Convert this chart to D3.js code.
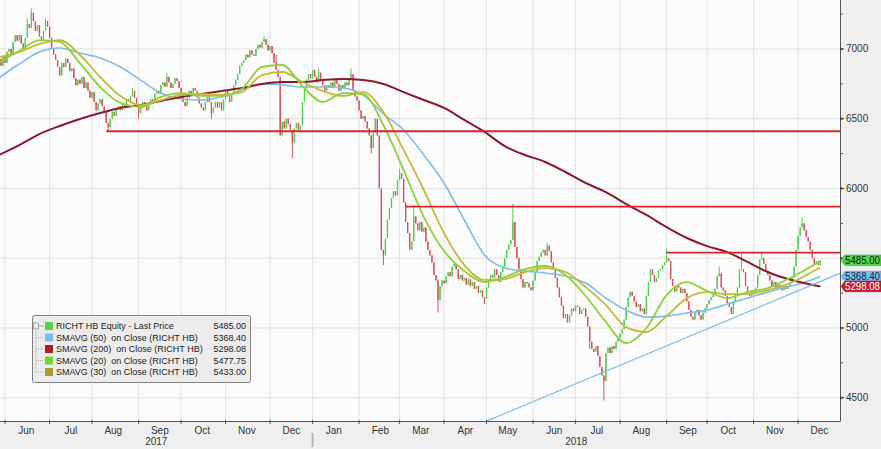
<!DOCTYPE html>
<html><head><meta charset="utf-8">
<script src="https://cdn.jsdelivr.net/npm/d3@7"></script>
<style>
body{margin:0;background:#efefef;}
svg{display:block;font-family:"Liberation Sans",Arial,sans-serif;}
.pre{white-space:pre;}
</style>
</head><body>
<svg id="chart" width="881" height="449"></svg>
<script>
// ---------------- DATA ----------------
const startDate = "2017-05-29";   // first trading day shown
const firstOpen = 6900;
const closes = [
 6930,6880,6950,6900,6980,7000,6960,7050,7100,7060,7100,
 7040,7000,7080,7180,7150,7260,7200,7130,7170,7090,
 7060,7130,7200,7160,7080,7000,6960,6920,6870,6810,
 6900,6870,6930,6900,6840,6860,6790,6740,6780,6750,
 6800,6720,6760,6700,6650,6690,6620,6560,6610,6640,
 6590,6550,6470,6440,6500,6550,6520,6570,6590,6560,
 6610,6580,6640,6620,6660,6700,6650,6600,6540,6580,
 6620,6590,6560,6600,6640,6620,6680,6700,6680,6740,
 6760,6730,6800,6760,6720,6750,6790,6770,6720,6660,
 6620,6590,6650,6700,6680,6720,6700,6650,6610,6580,
 6560,6620,6660,6620,6540,6580,6620,6580,6620,6560,
 6640,6700,6660,6620,6680,6740,6780,6820,6880,6900,
 6920,6960,6940,6990,6960,6950,7000,7030,7010,7050,
 7070,7030,6990,7020,6970,6900,6850,6800,6380,6480,
 6430,6500,6460,6420,6330,6430,6470,6420,6450,6620,
 6720,6780,6820,6790,6850,6800,6760,6830,6780,6740,
 6700,6740,6720,6760,6730,6780,6750,6700,6740,6720,
 6760,6740,6790,6820,6700,6660,6630,6560,6500,6520,
 6480,6430,6380,6290,6400,6500,6380,6000,5560,5520,
 5640,5780,5860,5930,5980,5950,6060,6110,6070,5900,
 5760,5680,5560,5620,5800,5750,5700,5760,5690,5720,
 5620,5560,5520,5470,5380,5340,5200,5300,5340,5320,
 5370,5400,5370,5440,5460,5420,5350,5380,5340,5360,
 5310,5350,5300,5330,5280,5300,5250,5270,5220,5210,
 5290,5350,5380,5360,5420,5380,5330,5400,5440,5500,
 5560,5600,5630,5760,5580,5500,5420,5350,5290,5330,
 5320,5290,5270,5340,5400,5480,5510,5540,5560,5520,
 5590,5550,5470,5420,5360,5290,5220,5160,5070,5100,
 5040,5090,5140,5120,5160,5150,5100,5130,5140,5080,
 5010,4900,4850,4830,4870,4800,4720,4660,4620,4820,
 4860,4820,4870,4850,4900,4930,4960,4990,5060,5150,
 5220,5260,5230,5190,5150,5170,5120,5140,5100,5230,
 5330,5420,5380,5330,5360,5410,5420,5450,5470,5500,
 5480,5350,5300,5260,5300,5290,5250,5280,5250,5190,
 5130,5080,5060,5110,5130,5090,5060,5110,5140,5170,
 5200,5220,5240,5280,5370,5390,5290,5270,5230,5180,
 5150,5100,5190,5240,5290,5420,5420,5400,5300,5250,
 5230,5260,5250,5290,5380,5490,5500,5460,5410,5380,
 5340,5300,5330,5280,5310,5290,5270,5300,5280,5300,
 5330,5360,5440,5560,5660,5720,5750,5700,5650,5620,
 5560,5500,5460,5480,5450,5485
];
// notable wicks [dayIndex, price]
const wickHighs = [[14,7220],[16,7290],[23,7220],[66,6720],[83,6830],[131,7090],[137,6960],[158,6860],[174,6860],[198,6140],[205,5880],[254,5890],[271,5610],[330,5570],[356,5440],[367,5540],[377,5540],[397,5790]];
const wickLows  = [[54,6410],[69,6500],[105,6500],[145,6220],[184,6250],[190,5450],[217,5110],[240,5170],[292,4850],[299,4480]];

// moving averages sampled every 10 trading days (plus last day)
const maIdx  = [0,10,20,30,40,50,60,70,80,90,100,110,120,130,140,150,160,170,180,190,200,210,220,230,240,250,260,270,280,290,300,310,320,330,340,350,360,370,380,390,400,406];
const sma20  = [6906,6985,7064,7050,6899,6727,6613,6584,6656,6684,6663,6663,6713,6871,6885,6734,6620,6684,6677,6455,6132,5795,5551,5408,5329,5365,5422,5444,5379,5229,5042,4892,4999,5236,5329,5265,5214,5257,5286,5351,5429,5477.75];
const sma30  = [6942,6978,7036,7064,6957,6799,6663,6598,6634,6670,6677,6670,6691,6813,6835,6763,6699,6663,6691,6548,6276,5989,5680,5451,5344,5351,5401,5429,5401,5293,5164,5006,4971,5085,5214,5257,5243,5243,5272,5315,5386,5433];
const sma50  = [6792,6892,6978,7007,6971,6935,6871,6777,6684,6641,6634,6656,6706,6749,6742,6727,6727,6720,6670,6534,6419,6240,6039,5774,5523,5430,5408,5394,5372,5322,5214,5128,5078,5085,5107,5128,5171,5214,5257,5293,5336,5368.40];
const sma200 = [6240,6311,6390,6448,6498,6541,6577,6598,6627,6656,6677,6699,6720,6749,6763,6763,6777,6785,6777,6749,6691,6634,6577,6491,6405,6304,6240,6190,6118,6039,5974,5888,5810,5723,5645,5587,5544,5473,5401,5351,5315,5298.08];

// horizontal resistance / support levels: start day index, price
const levelStart = [53, 201, 330];
const levelPrice = [6410, 5870, 5540];
// rising trendline: two anchors (day index, price)
const trendIdx = [241, 416];
const trendVal = [4332, 5394];

const yMajor  = [4500,5000,5500,6000,6500,7000];
const yLabels = [4500,5000,6000,6500,7000];   // 5500 hidden behind the price tag
const yMinor  = [4750,5250,5750,6250,6750,7250];

const legendNames  = ["RICHT HB Equity - Last Price","SMAVG (50)  on Close (RICHT HB)","SMAVG (200)  on Close (RICHT HB)","SMAVG (20)  on Close (RICHT HB)","SMAVG (30)  on Close (RICHT HB)"];
const legendValues = ["5485.00","5368.40","5298.08","5477.75","5433.00"];
const legendColors = ["#4fd44a","#7cbcec","#b01a2e","#6fd62a","#ab9c2c"];

const tagValues = [5485.00, 5368.40, 5298.08];
const tagFill   = ["#52d44c","#7cbcec","#c01f35"];
const tagText   = ["#0c2a0c","#0b2440","#ffffff"];

// ---------------- CHART ----------------
const W = 881, H = 449, PR = 840, PB = 421;
const svg = d3.select("#chart");

// trading days (weekdays)
const parse = d3.timeParse("%Y-%m-%d");
const dates = [];
{ let d = parse(startDate); while (dates.length < closes.length) { const wd = d.getDay(); if (wd !== 0 && wd !== 6) dates.push(new Date(d)); d = d3.timeDay.offset(d, 1); } }

const x = d3.scaleLinear().domain([0.5, 415.7]).range([0, PR]);
const y = d3.scaleLinear().domain([4333, 7351]).range([PB, 0]);

svg.append("rect").attr("x",0).attr("y",0).attr("width",W).attr("height",H).attr("fill","#efefef");
svg.append("rect").attr("x",0).attr("y",0).attr("width",PR).attr("height",PB).attr("fill","#fbfbfb");

svg.append("defs").append("clipPath").attr("id","clip").append("rect").attr("x",0).attr("y",0).attr("width",PR).attr("height",PB);

// month starts
const monthStarts = [];
for (let i = 1; i < dates.length; i++) if (dates[i].getMonth() !== dates[i-1].getMonth()) monthStarts.push(i);
const fmtMon = d3.timeFormat("%b");

const grid = svg.append("g");
monthStarts.forEach(i => grid.append("line").attr("x1",x(i)).attr("x2",x(i)).attr("y1",0).attr("y2",PB).attr("stroke","#e2e2e2").attr("stroke-width",1));
yMajor.forEach(v => grid.append("line").attr("x1",0).attr("x2",PR).attr("y1",y(v)).attr("y2",y(v)).attr("stroke","#e2e2e2").attr("stroke-width",1));

const plot = svg.append("g").attr("clip-path","url(#clip)");

// candles
const hiMap = new Map(wickHighs), loMap = new Map(wickLows);
const candles = closes.map((c,i) => {
  const o = i === 0 ? firstOpen : closes[i-1];
  const hi = hiMap.has(i) ? hiMap.get(i) : Math.max(o,c);
  const lo = loMap.has(i) ? loMap.get(i) : Math.min(o,c);
  return {i, o, c, hi, lo};
});
const cg = plot.append("g");
cg.selectAll("line.w").data(candles).join("line").attr("class","w")
  .attr("x1",d=>x(d.i)).attr("x2",d=>x(d.i)).attr("y1",d=>y(d.hi)).attr("y2",d=>y(d.lo))
  .attr("stroke",d=>d.c>=d.o?"#4fcf4f":"#dc4e5e").attr("stroke-width",1);
cg.selectAll("rect").data(candles).join("rect")
  .attr("x",d=>x(d.i)-0.65).attr("width",1.3)
  .attr("y",d=>y(Math.max(d.o,d.c))).attr("height",d=>Math.max(1,Math.abs(y(d.o)-y(d.c))))
  .attr("fill",d=>d.c>=d.o?"#4fcf4f":"#dc4e5e");

// moving averages
const maLine = vals => d3.line().x((d,k)=>x(maIdx[k])).y(d=>y(d)).curve(d3.curveMonotoneX)(vals);
plot.append("path").attr("d",maLine(sma50)).attr("fill","none").attr("stroke","#7cbcec").attr("stroke-width",1.6);
plot.append("path").attr("d",maLine(sma200)).attr("fill","none").attr("stroke","#8c1a2e").attr("stroke-width",2);
plot.append("path").attr("d",maLine(sma30)).attr("fill","none").attr("stroke","#c4b938").attr("stroke-width",1.8);
plot.append("path").attr("d",maLine(sma20)).attr("fill","none").attr("stroke","#8ed23a").attr("stroke-width",1.8);

// levels
levelStart.forEach((s,k) => plot.append("line").attr("x1",x(s)).attr("x2",PR).attr("y1",y(levelPrice[k])).attr("y2",y(levelPrice[k])).attr("stroke","#d8242c").attr("stroke-width",1.8));
// trendline
plot.append("line").attr("x1",x(trendIdx[0])).attr("y1",y(trendVal[0])).attr("x2",x(trendIdx[1])).attr("y2",y(trendVal[1])).attr("stroke","#7cbcec").attr("stroke-width",1.2);

// axes lines
svg.append("line").attr("x1",0).attr("x2",PR).attr("y1",PB+0.5).attr("y2",PB+0.5).attr("stroke","#555").attr("stroke-width",1);
svg.append("line").attr("x1",PR+0.5).attr("x2",PR+0.5).attr("y1",0).attr("y2",PB+0.5).attr("stroke","#555").attr("stroke-width",1);

// x ticks + labels
const xa = svg.append("g").attr("font-size",10).attr("fill","#333");
monthStarts.forEach(i => xa.append("line").attr("x1",x(i)).attr("x2",x(i)).attr("y1",PB-1).attr("y2",PB+3).attr("stroke","#555"));
monthStarts.forEach(i => {
  xa.append("text").attr("x",x(i+10.5)).attr("y",PB+13).attr("text-anchor","middle").text(fmtMon(dates[i]));
});
const janIdx = monthStarts.find(i => dates[i].getMonth() === 0);
xa.append("rect").attr("x",x(janIdx)-1).attr("y",PB+12).attr("width",2).attr("height",14).attr("fill","#b8b8b8");
xa.append("text").attr("x",x(janIdx)/2).attr("y",PB+24).attr("text-anchor","middle").text(d3.timeFormat("%Y")(dates[0]));
xa.append("text").attr("x",(x(janIdx)+PR)/2).attr("y",PB+24).attr("text-anchor","middle").text(d3.timeFormat("%Y")(dates[janIdx]));

// y ticks + labels
const ya = svg.append("g").attr("font-size",10).attr("fill","#333");
yMinor.forEach(v => ya.append("line").attr("x1",PR).attr("x2",PR+3).attr("y1",y(v)).attr("y2",y(v)).attr("stroke","#555"));
yMajor.forEach(v => ya.append("path").attr("d",`M${PR},${y(v)-1.5}L${PR+5},${y(v)}L${PR},${y(v)+1.5}Z`).attr("fill","#444"));
yLabels.forEach(v => ya.append("text").attr("x",PR+6).attr("y",y(v)+3.5).text(v));

// value tags
const tg = svg.append("g").attr("font-size",10);
tagValues.forEach((v,k) => {
  const yy = y(v), h = 5.3;
  tg.append("path").attr("d",`M${PR+1},${yy}L${PR+5},${yy-h}L${W},${yy-h}L${W},${yy+h}L${PR+5},${yy+h}Z`)
    .attr("fill",tagFill[k]).attr("stroke",d3.color(tagFill[k]).darker(0.8)).attr("stroke-width",0.6);
  tg.append("text").attr("x",PR+5).attr("y",yy+3.6).attr("fill",tagText[k]).attr("textLength",35).attr("lengthAdjust","spacingAndGlyphs").text(d3.format(".2f")(v));
});

// legend
const lg = svg.append("g").attr("font-size",9).attr("fill","#222");
lg.append("rect").attr("x",32.5).attr("y",315.5).attr("width",218).attr("height",67).attr("rx",2).attr("fill","#ececec").attr("stroke","#808080");
const rowY = k => 326 + k*11.5;
lg.append("rect").attr("x",33.5).attr("y",rowY(0)-3).attr("width",5).attr("height",6).attr("fill","none").attr("stroke","#999").attr("stroke-width",0.8);
lg.append("line").attr("x1",36).attr("x2",36).attr("y1",rowY(0)+3).attr("y2",rowY(4)).attr("stroke","#aaa").attr("stroke-dasharray","1,1");
legendNames.forEach((n,k) => {
  const yy = rowY(k);
  if (k>0) lg.append("line").attr("x1",36).attr("x2",44).attr("y1",yy).attr("y2",yy).attr("stroke","#aaa").attr("stroke-dasharray","1,1");
  if (k===0) lg.append("line").attr("x1",39).attr("x2",44).attr("y1",yy).attr("y2",yy).attr("stroke","#aaa");
  lg.append("rect").attr("x",45).attr("y",yy-4).attr("width",8).attr("height",8).attr("fill",legendColors[k]);
  lg.append("text").attr("class","pre").attr("x",56).attr("y",yy+3.3).text(n);
  lg.append("text").attr("x",246).attr("y",yy+3.3).attr("text-anchor","end").text(legendValues[k]);
});
</script>
</body></html>
